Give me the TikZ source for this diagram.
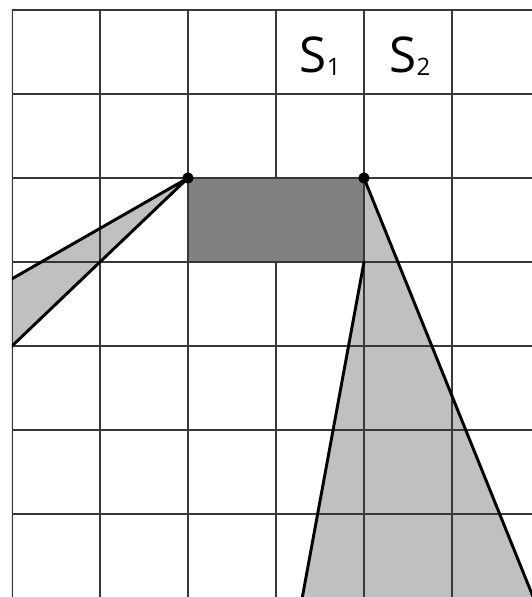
\documentclass[tikz,border=0pt]{standalone}
\usepackage{fontspec}
\newfontfamily\labelfont{Open Sans}
\definecolor{GridGray}{HTML}{383838}
\definecolor{ShadeLight}{HTML}{C0C0C0}
\definecolor{ShadeDark}{HTML}{808080}
\tikzset{
  gridline/.style={GridGray,line width=1pt},
  edgeline/.style={black,line width=2.2pt,line cap=round,line join=round},
  corner/.style={circle,fill=black,inner sep=0pt,minimum size=8.5pt},
  slabel/.style={font=\labelfont\fontsize{37}{37}\selectfont,inner sep=0pt,anchor=base}
}
\newcommand{\sublabel}[1]{S\hspace{0.5pt}\raisebox{-1.5pt}{\fontsize{18}{18}\selectfont #1}}
\begin{document}
\begin{tikzpicture}[x=66pt,y=63pt]
  \useasboundingbox (-0.136,0.119) rectangle (5.909,-6.988);
  \fill[white] (-0.136,0.119) rectangle (5.909,-6.988);
  \clip (0,0) rectangle (5.909,-6.988);
  \coordinate (A) at (2,-2);
  \coordinate (B) at (4,-2);
  \coordinate (C) at (4,-3);
  \coordinate (L1) at (-1,-3.8);
  \coordinate (L2) at (-1,-5);
  \coordinate (R1) at (6.12,-7.5);
  \coordinate (R2) at (3.21,-7.5);
  % light shadows
  \fill[ShadeLight] (A) -- (L1) -- (L2) -- cycle;
  \fill[ShadeLight] (B) -- (R1) -- (R2) -- (C) -- cycle;
  % grid
  \foreach \i in {0,...,5}
    \draw[gridline] (\i,0) -- (\i,-7.2);
  \foreach \j in {0,...,6}
    \draw[gridline] (0,-\j) -- (6,-\j);
  \filldraw[fill=ShadeDark,draw=GridGray,line width=1pt] (A) rectangle (C);
  % edges of the shadows
  \draw[edgeline] (L1) -- (A) -- (L2);
  \draw[edgeline] (R1) -- (B);
  \draw[edgeline] (C) -- (R2);
  \node[corner] (a) at (A) {};
  \node[corner] (b) at (B) {};
  \node[slabel] (s1) at (3.5,-0.75) {\sublabel{1}};
  \node[slabel] (s2) at (4.52,-0.75) {\sublabel{2}};
\end{tikzpicture}
\end{document}
